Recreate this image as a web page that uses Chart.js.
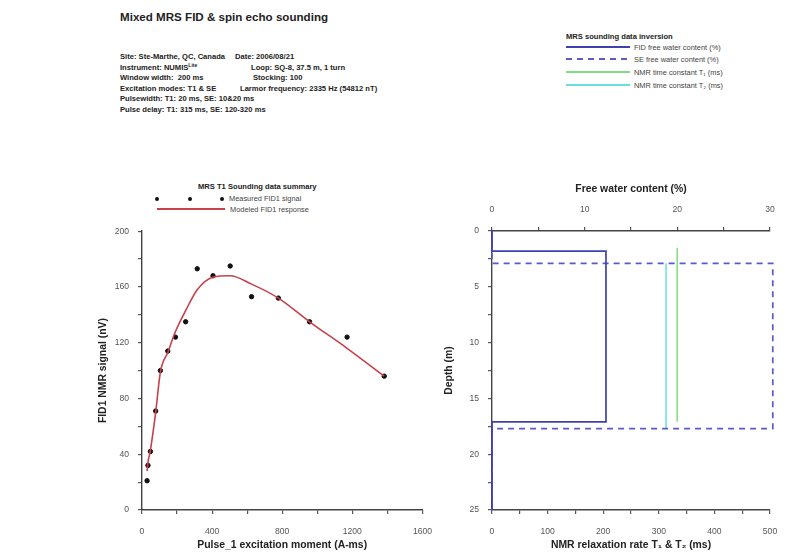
<!DOCTYPE html>
<html>
<head>
<meta charset="utf-8">
<script src="https://cdn.jsdelivr.net/npm/chart.js@4.4.1/dist/chart.umd.min.js"></script>
<style>
  body { margin: 0; background: #fff; font-family: "Liberation Sans", Arial, sans-serif; }
  #page { position: relative; width: 794px; height: 555px; overflow: hidden; }
  .txt { position: absolute; white-space: pre; color: #222; }
  .hdr { font-size: 7.6px; font-weight: bold; line-height: 10.6px; }
  .lg { font-size: 7.4px; color: #444; }
  .lgt { font-size: 7.6px; font-weight: bold; color: #222; }
  .ln { position: absolute; }
  .dot { position: absolute; width: 4px; height: 4px; border-radius: 2px; background: #111; }
  sup { font-size: 5px; line-height: 0; vertical-align: 3px; }
  canvas { position: absolute; }
</style>
</head>
<body>
<div id="page">
  <div class="txt" style="left:120px; top:10px; font-size:11.6px; font-weight:bold;">Mixed MRS FID &amp; spin echo sounding</div>
  <div class="txt hdr" style="left:120px; top:52px;">Site: Ste-Marthe, QC, Canada
Instrument: NUMIS<sup>Lite</sup>
Window width:  200 ms
Excitation modes: T1 &amp; SE
Pulsewidth: T1: 20 ms, SE: 10&amp;20 ms
Pulse delay: T1: 315 ms, SE: 120-320 ms</div>
  <div class="txt hdr" style="left:235px; top:52px;">Date: 2006/08/21</div>
  <div class="txt hdr" style="left:251px; top:62.6px;">Loop: SQ-8, 37.5 m, 1 turn</div>
  <div class="txt hdr" style="left:253px; top:73.2px;">Stocking: 100</div>
  <div class="txt hdr" style="left:240px; top:83.8px;">Larmor frequency: 2335 Hz (54812 nT)</div>

  <!-- right legend -->
  <div class="txt lgt" style="left:566px; top:32px;">MRS sounding data inversion</div>
  <div class="ln" style="left:566px; top:46px; width:64px; height:2px; background:#4040b0;"></div>
  <div class="txt lg" style="left:634px; top:43px;">FID free water content (%)</div>
  <div class="ln" style="left:566px; top:58px; width:64px; height:2px; background:repeating-linear-gradient(90deg,#5a5acc 0 6px,transparent 6px 11px);"></div>
  <div class="txt lg" style="left:634px; top:55px;">SE free water content (%)</div>
  <div class="ln" style="left:566px; top:71px; width:64px; height:2px; background:#80dc80;"></div>
  <div class="txt lg" style="left:634px; top:68px;">NMR time constant T₁ (ms)</div>
  <div class="ln" style="left:566px; top:84px; width:64px; height:2px; background:#6adede;"></div>
  <div class="txt lg" style="left:634px; top:81px;">NMR time constant T₂ (ms)</div>

  <!-- left legend -->
  <div class="txt lgt" style="left:198px; top:182px;">MRS T1 Sounding data summary</div>
  <div class="dot" style="left:155px; top:197px;"></div>
  <div class="dot" style="left:188px; top:197px;"></div>
  <div class="dot" style="left:220px; top:197px;"></div>
  <div class="txt lg" style="left:229px; top:194px;">Measured FID1 signal</div>
  <div class="ln" style="left:157px; top:208px; width:68px; height:2px; background:#c8404a;"></div>
  <div class="txt lg" style="left:230px; top:205px;">Modeled FID1 response</div>

  <canvas id="left" width="350" height="337" style="left:94px; top:217px;"></canvas>
  <canvas id="right" width="350" height="374" style="left:440px; top:180px;"></canvas>
</div>
<script>
// FID1 sounding (left)
const pulseMoments = [29, 34, 48, 78, 105, 147, 191, 249, 315, 405, 503, 625, 778, 956, 1170, 1382];
const measuredSignal = [21, 32, 42, 71, 100, 114, 124, 135, 173, 168, 175, 153, 152, 135, 124, 96];
const modeledSignal = [28, 34, 43, 70, 99, 113, 128, 143, 158, 167, 168, 162, 152, 135, 116, 96];

// inversion profiles (right), layer boundaries in m
const fidDepths = [0, 1.8, 17.1, 25];
const fidWater = [0, 12.3, 0];
const seDepths = [0, 2.9, 17.7, 25];
const seWater = [0, 30.3, 0];
const t1Depths = [1.5, 17.1];
const t1Values = [333];
const t2Depths = [2.9, 17.7];
const t2Values = [313];

const tickFont = { family: "Liberation Sans", size: 8.6 };
const titleFont = { family: "Liberation Sans", size: 10.4, weight: "bold" };
const axisGrid = { drawOnChartArea: false, color: "#555", tickLength: 4, lineWidth: 1.2 };
const axisBorder = { display: true, color: "#444", width: 1.4 };

function stepPoints(depths, values) {
  const pts = [];
  for (let i = 0; i < values.length; i++) {
    pts.push({ x: values[i], y: depths[i] });
    pts.push({ x: values[i], y: depths[i + 1] });
  }
  return pts;
}

function every(n) {
  return (v) => (Math.abs(v % n) < 1e-6 ? v : "");
}

new Chart(document.getElementById("left"), {
  type: "scatter",
  data: {
    datasets: [
      {
        label: "Modeled FID1 response",
        data: pulseMoments.map((x, i) => ({ x: x, y: modeledSignal[i] })),
        showLine: true,
        borderColor: "#c8404a",
        borderWidth: 1.6,
        pointRadius: 0,
        cubicInterpolationMode: "monotone",
      },
      {
        label: "Measured FID1 signal",
        data: pulseMoments.map((x, i) => ({ x: x, y: measuredSignal[i] })),
        backgroundColor: "#111",
        borderColor: "#111",
        pointRadius: 2.2,
      },
    ],
  },
  options: {
    responsive: false,
    animation: false,
    layout: { padding: { top: 9, right: 3, left: 0, bottom: 0 } },
    plugins: { legend: { display: false }, tooltip: { enabled: false } },
    scales: {
      x: {
        min: 0,
        max: 1600,
        grid: axisGrid,
        border: axisBorder,
        ticks: { stepSize: 200, autoSkip: false, maxRotation: 0, font: tickFont, color: "#555", padding: 12, callback: every(400) },
        title: { display: true, text: "Pulse_1 excitation moment (A-ms)", font: titleFont, color: "#222", padding: { top: 0, bottom: 3 } },
        afterFit: (s) => { s.height = 44; },
      },
      y: {
        min: 0,
        max: 200,
        grid: axisGrid,
        border: axisBorder,
        ticks: { stepSize: 20, autoSkip: false, font: tickFont, color: "#555", padding: 9, callback: every(40) },
        title: { display: true, text: "FID1 NMR signal (nV)", font: titleFont, color: "#222", padding: { top: 3, bottom: 0 } },
        afterFit: (s) => { s.width = 48; },
      },
    },
  },
});

new Chart(document.getElementById("right"), {
  type: "scatter",
  data: {
    datasets: [
      {
        label: "FID free water content (%)",
        data: stepPoints(fidDepths, fidWater),
        xAxisID: "x2",
        showLine: true,
        borderColor: "#4040b0",
        borderWidth: 1.7,
        pointRadius: 0,
        clip: false,
      },
      {
        label: "SE free water content (%)",
        data: stepPoints(seDepths, seWater),
        xAxisID: "x2",
        showLine: true,
        borderColor: "#5a5acc",
        borderDash: [6, 5],
        borderWidth: 1.7,
        pointRadius: 0,
        clip: false,
      },
      {
        label: "NMR time constant T1 (ms)",
        data: stepPoints(t1Depths, t1Values),
        xAxisID: "x",
        showLine: true,
        borderColor: "#80dc80",
        borderWidth: 1.5,
        pointRadius: 0,
      },
      {
        label: "NMR time constant T2 (ms)",
        data: stepPoints(t2Depths, t2Values),
        xAxisID: "x",
        showLine: true,
        borderColor: "#6adede",
        borderWidth: 1.5,
        pointRadius: 0,
      },
    ],
  },
  options: {
    responsive: false,
    animation: false,
    layout: { padding: { top: 0, right: 20, left: 0, bottom: 0 } },
    plugins: { legend: { display: false }, tooltip: { enabled: false } },
    scales: {
      x: {
        position: "bottom",
        min: 0,
        max: 500,
        grid: axisGrid,
        border: axisBorder,
        ticks: { stepSize: 50, autoSkip: false, maxRotation: 0, font: tickFont, color: "#555", padding: 12, callback: every(100) },
        title: { display: true, text: "NMR relaxation rate T₁ & T₂ (ms)", font: titleFont, color: "#222", padding: { top: 0, bottom: 3 } },
        afterFit: (s) => { s.height = 44; },
      },
      x2: {
        position: "top",
        min: 0,
        max: 30,
        grid: axisGrid,
        border: axisBorder,
        ticks: { stepSize: 5, autoSkip: false, maxRotation: 0, font: tickFont, color: "#555", padding: 12, callback: every(10) },
        title: { display: true, text: "Free water content (%)", font: titleFont, color: "#222", padding: { top: 3, bottom: 0 } },
        afterFit: (s) => { s.height = 51; },
      },
      y: {
        min: 0,
        max: 25,
        reverse: true,
        grid: axisGrid,
        border: axisBorder,
        ticks: { stepSize: 2.5, autoSkip: false, font: tickFont, color: "#555", padding: 9, callback: every(5) },
        title: { display: true, text: "Depth (m)", font: titleFont, color: "#222", padding: { top: 3, bottom: 0 } },
        afterFit: (s) => { s.width = 52; },
      },
    },
  },
});
</script>
</body>
</html>
